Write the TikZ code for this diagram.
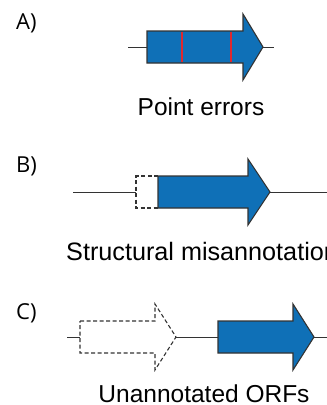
\documentclass[tikz,border=0pt]{standalone}
\usepackage{fontspec}
\setmainfont{Liberation Sans}
\newfontfamily\panelfont{Open Sans}
\usepackage{tikz}
\usetikzlibrary{calc}

\definecolor{geneblue}{HTML}{0F70B7}
\definecolor{errred}{HTML}{E0282E}
\definecolor{outline}{HTML}{333333}

\tikzset{
  gene/.style={fill=geneblue, draw=outline, line width=1.1pt, line join=miter},
  ghost/.style={draw=outline, line width=1.1pt, dash pattern=on 4pt off 2.5pt},
  backbone/.style={draw=outline, line width=0.9pt},
  panel/.style={font=\panelfont\fontsize{22}{26}\selectfont, anchor=west, inner sep=0pt},
  caption/.style={font=\fontsize{24.5}{28}\selectfont, anchor=base, inner sep=0pt}
}

\begin{document}
\begin{tikzpicture}[x=1pt, y=-1pt]
  \clip (0,0) rectangle (327,405);
  \fill[white] (0,0) rectangle (327,405);

  % A) point errors
  \node[panel] (labA) at (16,23) {A)};
  \coordinate (a0) at (128,47);
  \coordinate (a1) at (147,47);
  \coordinate (atip) at (263,47);
  \coordinate (a2) at (274,47);
  \draw[backbone] (a0) -- (a1);
  \draw[backbone] (atip) -- (a2);
  \draw[gene] (147,31) -- (243,31) -- (243,14) -- (atip) -- (243,80) -- (243,63) -- (147,63) -- cycle;
  \foreach \x in {182,231} { \draw[errred, line width=1.2pt] (\x,31.6) -- (\x,62.4); }
  \node[caption] (capA) at (201,115) {Point errors};

  % B) structural misannotation
  \node[panel] (labB) at (16,166) {B)};
  \coordinate (b0) at (73,192);
  \coordinate (b1) at (136,192);
  \coordinate (btip) at (270,192);
  \coordinate (b2) at (330,192);
  \draw[backbone] (b0) -- (b1);
  \draw[backbone] (btip) -- (b2);
  \draw[ghost] (158,176) -- (136,176) -- (136,208) -- (158,208);
  \draw[gene] (158,176) -- (248,176) -- (248,159) -- (btip) -- (248,225) -- (248,208) -- (158,208) -- cycle;
  \node[caption, anchor=base west, font=\fontsize{25.2}{28}\selectfont] (capB) at (66,260) {Structural misannotation};

  % C) unannotated ORFs
  \node[panel] (labC) at (16,313) {C)};
  \coordinate (c0) at (67,337);
  \coordinate (c1) at (80,337);
  \coordinate (ctip) at (176,337);
  \coordinate (c2) at (218,337);
  \coordinate (dtip) at (314,337);
  \coordinate (c3) at (330,337);
  \draw[backbone] (c0) -- (c1);
  \draw[backbone] (ctip) -- (c2);
  \draw[backbone] (dtip) -- (c3);
  \draw[ghost] (80,321) -- (155,321) -- (155,304) -- (ctip) -- (155,370) -- (155,353) -- (80,353) -- cycle;
  \draw[gene] (218,321) -- (293,321) -- (293,304) -- (dtip) -- (293,370) -- (293,353) -- (218,353) -- cycle;
  \node[caption] (capC) at (204,402) {Unannotated ORFs};
\end{tikzpicture}
\end{document}
